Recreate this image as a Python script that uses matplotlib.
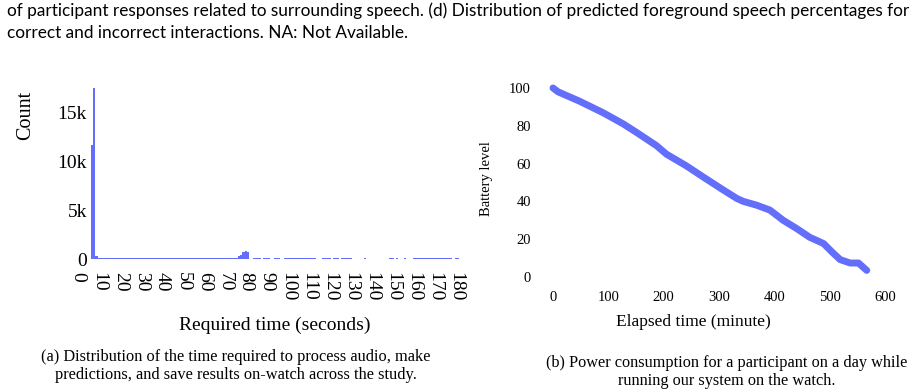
import matplotlib
matplotlib.use("Agg")
import matplotlib.pyplot as plt
import matplotlib.transforms as mtransforms

# ---------------- data ----------------
# (a) histogram of required time, 1-second bins starting at 5 s
bin_left = list(range(5, 181))
counts = [
    11600, 17500, 350, 120, 80, 80, 150, 80, 80, 80,      # 5-14
    80, 80, 80, 80, 80, 80, 80, 80, 80, 80,               # 15-24
    80, 80, 80, 80, 80, 80, 80, 80, 80, 80,               # 25-34
    80, 80, 80, 80, 80, 80, 80, 80, 80, 80,               # 35-44
    80, 80, 80, 80, 80, 80, 80, 80, 80, 80,               # 45-54
    80, 80, 80, 80, 80, 80, 80, 80, 80, 80,               # 55-64
    150, 150, 150, 150, 150, 150, 150, 150, 150, 150,     # 65-74
    300, 450, 700, 780, 760, 0, 0, 60, 60, 60,            # 75-84
    60, 0, 60, 60, 60, 0, 0, 60, 60, 60,                  # 85-94
    0, 0, 60, 60, 60, 60, 60, 60, 60, 60,                 # 95-104
    60, 60, 60, 60, 60, 60, 60, 0, 0, 0,                  # 105-114
    60, 60, 60, 60, 0, 60, 60, 60, 0, 60,                 # 115-124
    60, 60, 60, 60, 0, 0, 0, 0, 0, 0,                     # 125-134
    60, 0, 0, 0, 0, 0, 0, 0, 0, 0,                        # 135-144
    0, 0, 60, 60, 0, 60, 0, 0, 0, 60,                     # 145-154
    0, 0, 0, 60, 60, 60, 60, 60, 60, 60,                  # 155-164
    60, 60, 60, 60, 60, 60, 60, 60, 60, 60,               # 165-174
    60, 60, 0, 60, 60, 0,                                 # 175-180
]
hist_xticks = [0, 10, 20, 30, 40, 50, 60, 70, 80, 90, 100, 110, 120, 130, 140, 150, 160, 170, 180]
hist_yticks = [0, 5000, 10000, 15000]
hist_ylabels = ["0", "5k", "10k", "15k"]

# (b) battery level over elapsed time
elapsed = [0, 9, 48, 90, 127, 151, 187, 205, 241, 271, 308, 332, 344, 368,
           392, 416, 440, 464, 489, 504, 519, 537, 552, 567]
battery = [100, 98, 93, 87, 81, 76.5, 69.5, 65, 58.8, 53, 46, 41.6, 40, 38,
           35.4, 30, 25.7, 21, 17.7, 13.3, 9.2, 7.4, 7.4, 3.5]
batt_xticks = [0, 100, 200, 300, 400, 500, 600]
batt_yticks = [0, 20, 40, 60, 80, 100]

top_line1 = ("of participant responses related to surrounding speech. (d) Distribution "
             "of predicted foreground speech percentages for")
top_line2 = "correct and incorrect interactions. NA: Not Available."
cap_a = ("(a) Distribution of the time required to process audio, make\n"
         "predictions, and save results on-watch across the study.")
cap_b = ("(b) Power consumption for a participant on a day while\n"
         "running our system on the watch.")

# ---------------- figure ----------------
W, H = 914, 392
fig = plt.figure(figsize=(W / 100, H / 100), dpi=100)
fig.patch.set_facecolor("white")
BLUE = "#636efa"
SERIF = "Liberation Serif"


def fx(px):
    return px / W


def fy(py):
    return 1 - py / H


def axes_px(x0, x1, ytop, ybot):
    return fig.add_axes([fx(x0), fy(ybot), fx(x1) - fx(x0), fy(ytop) - fy(ybot)])


# ---- (a) histogram ----
ax1 = axes_px(80.7, 458.7, 78.7, 259)
ax1.bar(bin_left, counts, width=1.0, align="edge", color=BLUE, linewidth=0)
ax1.set_xlim(0, 180)
ax1.set_ylim(0, 18400)
ax1.set_xticks(hist_xticks)
ax1.set_xticklabels([str(v) for v in hist_xticks], rotation=-90, family=SERIF, fontsize=14)
ax1.set_yticks(hist_yticks)
ax1.set_yticklabels(hist_ylabels, family=SERIF, fontsize=14)
ax1.tick_params(axis="x", length=0, pad=9)
ax1.tick_params(axis="y", length=0, pad=-4.5)
for s in ax1.spines.values():
    s.set_visible(False)
ax1.patch.set_alpha(0)
shift = mtransforms.ScaledTranslation(-2.5 / 100, 0, fig.dpi_scale_trans)
for lab in ax1.get_xticklabels():
    lab.set_va("top")
    lab.set_ha("center")
    lab.set_transform(lab.get_transform() + shift)
fig.text(fx(26), fy(115), "Count", rotation=90, ha="center", va="center",
         family=SERIF, fontsize=14.5)
fig.text(fx(275), fy(325), "Required time (seconds)", ha="center", va="center",
         family=SERIF, fontsize=14)

# ---- (b) battery ----
ax2 = axes_px(553, 885, 88, 277)
ax2.plot(elapsed, battery, color=BLUE, linewidth=5, solid_capstyle="round",
         solid_joinstyle="round", clip_on=False)
ax2.set_xlim(0, 600)
ax2.set_ylim(0, 100)
ax2.set_xticks(batt_xticks)
ax2.set_xticklabels([str(v) for v in batt_xticks], family=SERIF, fontsize=10.5)
ax2.set_yticks(batt_yticks)
ax2.set_yticklabels([str(v) for v in batt_yticks], family=SERIF, fontsize=10.5)
ax2.tick_params(axis="x", length=0, pad=10)
ax2.tick_params(axis="y", length=0, pad=16)
for s in ax2.spines.values():
    s.set_visible(False)
ax2.patch.set_alpha(0)
fig.text(fx(486.7), fy(179), "Battery level", rotation=90, ha="center", va="center",
         family=SERIF, fontsize=10.5)
fig.text(fx(693), fy(322), "Elapsed time (minute)", ha="center", va="center",
         family=SERIF, fontsize=12.5)

# ---- captions ----
fig.text(fx(236), fy(366), cap_a, ha="center", va="center", family=SERIF,
         fontsize=11.8, linespacing=1.15)
fig.text(fx(727), fy(372), cap_b, ha="center", va="center", family=SERIF,
         fontsize=11.7, linespacing=1.15)

# ---- top text (fit line 1 width to ~899 px) ----
t1 = fig.text(fx(7), fy(11), top_line1, ha="left", va="center", family="Lato", fontsize=12)
fig.canvas.draw()
r = fig.canvas.get_renderer()
wpx = t1.get_window_extent(r).width
fs = 12 * 899 / wpx
t1.set_fontsize(fs)
fig.text(fx(7), fy(33), top_line2, ha="left", va="center", family="Lato", fontsize=fs)

fig.savefig("out.png", dpi=100, facecolor="white")
